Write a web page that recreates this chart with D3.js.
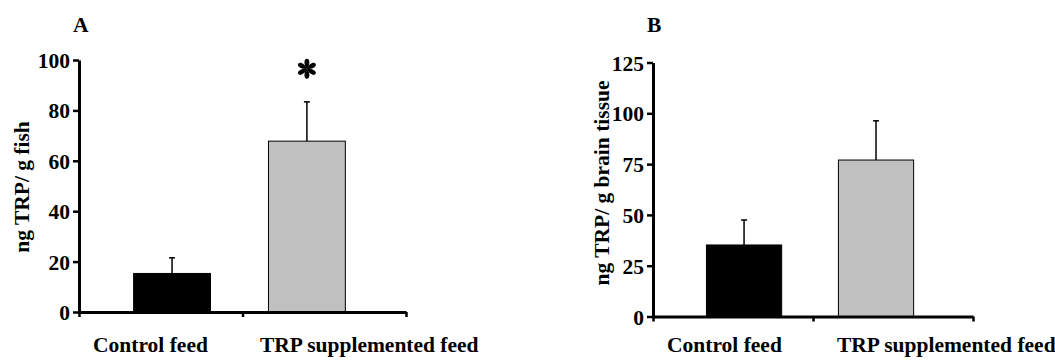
<!DOCTYPE html>
<meta charset="utf-8">
<style>
body { margin: 0; background: #fff; }
svg text { font-family: 'Liberation Serif', 'Times New Roman', serif; font-weight: bold; fill: #000; }
.axis path, .axis line { stroke: #000; }
</style>
<body>
<div class="viz"></div>
<script src="https://cdn.jsdelivr.net/npm/d3@7"></script>
<script>
// data
const categories = ["Control feed", "TRP supplemented feed"];
const fishMean = [15.3, 67.8];
const fishErr = [6.2, 15.6];
const brainMean = [35.2, 77.0];
const brainErr = [12.3, 19.3];
const fishTicks = [0, 20, 40, 60, 80, 100];
const brainTicks = [0, 25, 50, 75, 100, 125];
const barFill = ["#000000", "#c0c0c0"];

const W = 1055, H = 360;
const fs = "21.5px";

var svg = d3.select(".viz").append("svg")
    .attr("width", W)
    .attr("height", H);

const panels = [
  {letter: "A", yLabel: "ng TRP/ g fish", mean: fishMean, err: fishErr, ticks: fishTicks,
   left: 79, right: 406, top: 60, bottom: 312, yLabelX: 28.5, yLabelY: 187,
   letterX: 73, labelStart: [0.086, 1.107], star: 1},
  {letter: "B", yLabel: "ng TRP/ g brain tissue", mean: brainMean, err: brainErr, ticks: brainTicks,
   left: 653, right: 973, top: 62.5, bottom: 316.5, yLabelX: 608.5, yLabelY: 183,
   letterX: 647, labelStart: [0.0875, 1.15], star: null}
];

panels.forEach(drawPanel);

function drawPanel(p) {
  var g = svg.append("g");

  var y = d3.scaleLinear()
    .domain([0, d3.max(p.ticks)])
    .range([p.bottom, p.top]);

  // axis units: one unit per category
  var x = d3.scaleLinear()
    .domain([0, categories.length])
    .range([p.left, p.right]);

  var band = d3.scaleBand()
    .domain(categories)
    .range([x(0.334), x(1.629)])
    .paddingInner(0.43);

  // bars
  g.selectAll(".bar")
    .data(categories)
    .enter()
    .append("rect")
    .attr("class", "bar")
    .attr("x", d => band(d))
    .attr("width", band.bandwidth())
    .attr("y", (d, i) => y(p.mean[i]))
    .attr("height", (d, i) => y(0) - y(p.mean[i]))
    .style("fill", (d, i) => barFill[i])
    .attr("stroke", "#000")
    .attr("stroke-width", 1);

  // upper error bars only
  var eb = g.selectAll(".err")
    .data(categories)
    .enter()
    .append("g")
    .attr("class", "err");

  eb.append("line")
    .attr("x1", d => band(d) + band.bandwidth() / 2)
    .attr("x2", d => band(d) + band.bandwidth() / 2)
    .attr("y1", (d, i) => y(p.mean[i]))
    .attr("y2", (d, i) => y(p.mean[i] + p.err[i]))
    .attr("stroke", "#000")
    .attr("stroke-width", 1.5);

  eb.append("line")
    .attr("x1", d => band(d) + band.bandwidth() / 2 - 3)
    .attr("x2", d => band(d) + band.bandwidth() / 2 + 3)
    .attr("y1", (d, i) => y(p.mean[i] + p.err[i]))
    .attr("y2", (d, i) => y(p.mean[i] + p.err[i]))
    .attr("stroke", "#000")
    .attr("stroke-width", 1.5);

  // y axis
  var ya = g.append("g")
    .attr("class", "axis")
    .attr("transform", "translate(" + p.left + ",0)")
    .call(d3.axisLeft(y).tickValues(p.ticks).tickSize(6).tickSizeOuter(0).tickPadding(3));
  ya.select(".domain").attr("stroke-width", 3);
  ya.selectAll(".tick line").attr("stroke-width", 2.5);
  ya.selectAll(".tick text").style("font-size", fs).attr("dy", "0.35em");

  // x axis, ticks between categories
  var xa = g.append("g")
    .attr("class", "axis")
    .attr("transform", "translate(0," + p.bottom + ")")
    .call(d3.axisBottom(x).tickValues(d3.range(categories.length + 1)).tickFormat("").tickSize(5).tickSizeOuter(0));
  xa.select(".domain").attr("stroke-width", 3);
  xa.selectAll(".tick line").attr("stroke-width", 2.5);

  // category labels
  g.selectAll(".cat")
    .data(categories)
    .enter()
    .append("text")
    .attr("class", "cat")
    .attr("x", (d, i) => x(p.labelStart[i]))
    .attr("y", 352)
    .style("font-size", fs)
    .text(d => d);

  // y label
  g.append("text")
    .attr("transform", "translate(" + p.yLabelX + "," + p.yLabelY + ") rotate(-90)")
    .style("text-anchor", "middle")
    .style("font-size", fs)
    .text(p.yLabel);

  // panel letter
  g.append("text")
    .attr("x", p.letterX)
    .attr("y", 32)
    .style("font-size", fs)
    .text(p.letter);

  // significance asterisk, six teardrop petals
  if (p.star != null) {
    var c = categories[p.star];
    var i = p.star;
    var star = g.append("g")
      .attr("transform", "translate(" + (band(c) + band.bandwidth() / 2) + "," + (y(p.mean[i] + p.err[i]) - 33) + ")");
    star.selectAll("path")
      .data(d3.range(6))
      .enter()
      .append("path")
      .attr("d", "M0,0 C-3.2,-3.5 -3.4,-10 0,-10 C3.4,-10 3.2,-3.5 0,0 Z")
      .attr("transform", k => "rotate(" + k * 60 + ")")
      .attr("fill", "#000");
  }
}
</script>
</body>
